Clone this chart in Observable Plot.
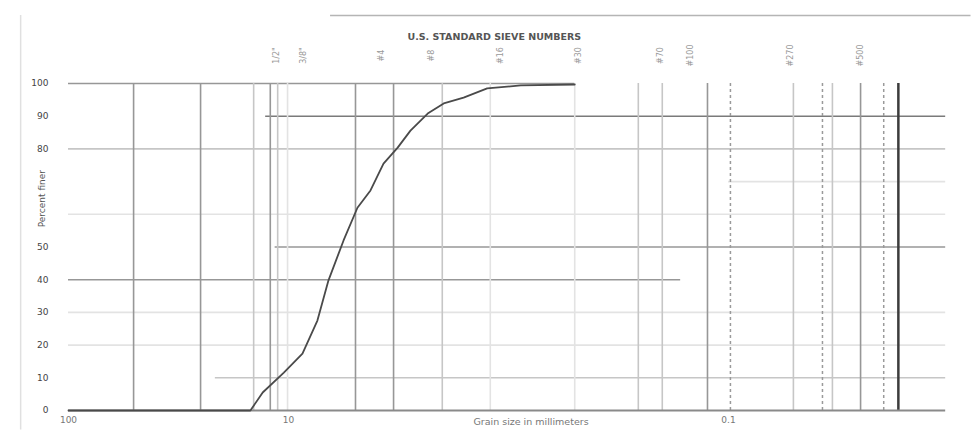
<!DOCTYPE html>
<html><head><meta charset="utf-8">
<script src="https://cdn.jsdelivr.net/npm/d3@7"></script>
<script src="https://cdn.jsdelivr.net/npm/@observablehq/plot@0.6"></script>
<style>body{margin:0;background:#fff;}</style>
</head><body><div id="chart"></div>
<script>
// Grading curve (grain size in mm, percent finer)
const grainSize = [100, 14.9, 13.1, 10.5, 8.64, 7.39, 6.58, 5.62, 4.86, 4.24, 3.70, 3.19, 2.79, 2.33, 1.97, 1.60, 1.25, 0.88, 0.50];
const percentFiner = [0, 0, 5.5, 11.6, 17.4, 27.5, 39.8, 52, 62, 67.3, 75.5, 80.4, 85.6, 90.8, 93.9, 95.7, 98.5, 99.4, 99.7];

// Vertical grid (sieve openings, mm) and their tone
const vGridSize = [50.6, 25.1, 14.4, 12.1, 11.2, 10.1, 4.96, 3.33, 2.0, 1.21, 0.5, 0.257, 0.2, 0.1246, 0.0507, 0.0337, 0.0251];
const vGridTone = ["mid", "mid", "light", "mid", "light", "faint", "mid", "mid", "light", "faint", "faint", "light", "light", "mid", "light", "light", "mid"];
const dashedSize = [0.098, 0.0374, 0.0197];
const heavySize = [0.0169];

// Horizontal grid (percent) with extents in mm
const hGridPercent = [100, 90, 80, 70, 60, 50, 40, 30, 20, 10];
const hGridFrom = [100, 12.7, 100, 0.1, 100, 11.5, 100, 100, 100, 21.5];
const hGridTo = [0.5, 0.0103, 0.0103, 0.0103, 0.0103, 0.0103, 0.165, 0.0103, 0.0103, 0.0103];
const hGridTone = ["mid", "dark", "light", "faint", "faint", "mid", "mid", "faint", "faint", "light"];

// Sieve labels along the top
const sieveSize = [11.7, 8.82, 3.9, 2.31, 1.12, 0.496, 0.21, 0.154, 0.054, 0.026];
const sieveLabel = ["1/2\"", "3/8\"", "#4", "#8", "#16", "#30", "#70", "#100", "#270", "#500"];

// Tick labels
const yTicks = [0, 10, 20, 30, 40, 50, 80, 90, 100];
const xTicks = [100, 10, 0.1];

const chartTitle = "U.S. STANDARD SIEVE NUMBERS";
const xTitle = "Grain size in millimeters";
const yTitle = "Percent finer";

const tone = {dark: "#7a7a7a", mid: "#979797", light: "#c6c6c6", faint: "#e3e3e3"};
const curve = grainSize.map((d, i) => ({d, p: percentFiner[i]}));
const vGrid = vGridSize.map((d, i) => ({d, t: vGridTone[i]}));
const hGrid = hGridPercent.map((p, i) => ({p, x1: hGridFrom[i], x2: hGridTo[i], t: hGridTone[i]}));
const sieves = sieveSize.map((d, i) => ({d, label: sieveLabel[i]}));

const chart = Plot.plot({
  width: 974, height: 439,
  marginTop: 83, marginBottom: 29, marginLeft: 68, marginRight: 26,
  x: {type: "log", domain: [100, 0.01], axis: null},
  y: {domain: [0, 100], axis: null},
  style: {fontFamily: "DejaVu Sans", background: "white"},
  marks: [
    // outer frame pieces
    Plot.ruleY([120.8], {x1: 6.44, x2: 0.0079, stroke: "#b5b5b5", strokeWidth: 1.5}),
    Plot.ruleX([165], {y1: -6, y2: 120.8, stroke: "#e0e0e0", strokeWidth: 1.5}),
    // grids
    Plot.ruleY(hGrid, {y: "p", x1: "x1", x2: "x2", stroke: d => tone[d.t], strokeWidth: 1.6}),
    Plot.ruleX(vGrid, {x: "d", y1: 0, y2: 100, stroke: d => tone[d.t], strokeWidth: 1.6}),
    Plot.ruleX(dashedSize, {x: d => d, y1: 0, y2: 100, stroke: "#9a9a9a", strokeWidth: 1.5, strokeDasharray: "3,3"}),
    Plot.ruleX(heavySize, {x: d => d, y1: 0, y2: 100, stroke: "#3c3c3c", strokeWidth: 2.5}),
    // base line
    Plot.ruleY([0], {x1: 100, x2: 0.0103, stroke: "#8a8a8a", strokeWidth: 2}),
    // grading curve
    Plot.line(curve, {x: "d", y: "p", stroke: "#4a4a4a", strokeWidth: 1.8}),
    // axes
    Plot.axisY(yTicks, {anchor: "left", tickSize: 0, tickPadding: 20, fontSize: 9, color: "#444", label: null}),
    Plot.axisX(xTicks, {anchor: "bottom", tickSize: 0, tickPadding: 6, fontSize: 9, color: "#777", tickFormat: d => String(d), label: null}),
    Plot.text([yTitle], {y: 64.8, frameAnchor: "left", textAnchor: "middle", dx: -26, rotate: -90, fontSize: 9, fill: "#555"}),
    Plot.text([xTitle], {x: 0.79, frameAnchor: "bottom", dy: 14, fontSize: 9.5, fill: "#777"}),
    Plot.text([chartTitle], {x: 1.16, frameAnchor: "top", dy: -50, fontSize: 9.5, fontWeight: "bold", fill: "#555"}),
    Plot.text(sieves, {x: "d", text: "label", frameAnchor: "top", dy: -28, rotate: -90, fontSize: 8, fill: "#999"})
  ]
});
document.getElementById("chart").appendChild(chart);
</script>
</body></html>
